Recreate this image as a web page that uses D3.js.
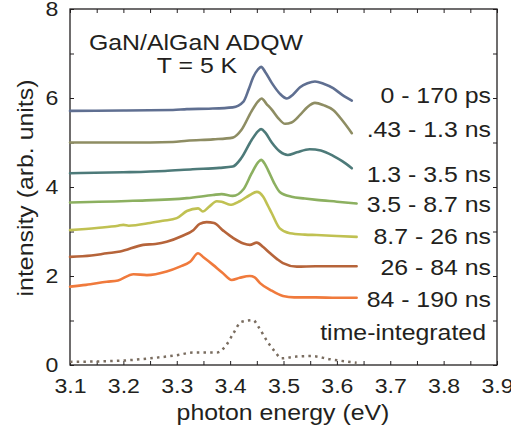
<!DOCTYPE html>
<html>
<head>
<meta charset="utf-8">
<script src="https://cdn.jsdelivr.net/npm/d3@7"></script>
<style>
  html, body { margin: 0; padding: 0; background: #fff; }
  svg { display: block; }
  text { font-family: "Liberation Sans", Arial, Helvetica, sans-serif; fill: #231f20; }
</style>
</head>
<body>
<svg id="chart" width="511" height="433"></svg>
<script>
// ---------------- data ----------------
const seriesLabels = ["0 - 170 ps", ".43 - 1.3 ns", "1.3 - 3.5 ns", "3.5 - 8.7 ns",
                      "8.7 - 26 ns", "26 - 84 ns", "84 - 190 ns", "time-integrated"];

const s0_170ps = [[3.10,5.71],[3.20,5.72],[3.293,5.73],[3.319,5.75],[3.36,5.76],[3.405,5.79],[3.425,5.92],
  [3.435,6.20],[3.443,6.46],[3.452,6.64],[3.458,6.70],[3.466,6.58],[3.478,6.34],[3.493,6.10],[3.506,5.99],
  [3.518,6.08],[3.531,6.24],[3.545,6.33],[3.559,6.37],[3.575,6.32],[3.593,6.22],[3.61,6.07],[3.628,5.94]];

const s043_13ns = [[3.10,5.00],[3.25,5.00],[3.293,5.01],[3.319,5.04],[3.368,5.07],[3.405,5.11],[3.421,5.28],
  [3.44,5.70],[3.452,5.92],[3.459,5.99],[3.468,5.87],[3.478,5.74],[3.49,5.55],[3.503,5.42],[3.515,5.45],
  [3.531,5.62],[3.545,5.80],[3.559,5.89],[3.575,5.84],[3.593,5.73],[3.61,5.50],[3.628,5.21]];

const s13_35ns = [[3.10,4.31],[3.20,4.33],[3.278,4.36],[3.33,4.40],[3.38,4.43],[3.405,4.46],[3.421,4.65],
  [3.44,5.05],[3.452,5.25],[3.458,5.30],[3.466,5.22],[3.478,5.00],[3.493,4.80],[3.508,4.72],[3.525,4.78],
  [3.549,4.85],[3.57,4.82],[3.593,4.70],[3.61,4.58],[3.628,4.42]];

const s35_87ns = [[3.10,3.65],[3.218,3.69],[3.319,3.75],[3.368,3.82],[3.384,3.84],[3.405,3.80],[3.425,3.95],
  [3.44,4.30],[3.452,4.55],[3.458,4.61],[3.465,4.52],[3.471,4.38],[3.482,4.10],[3.493,3.89],[3.515,3.78],
  [3.54,3.74],[3.562,3.71],[3.60,3.67],[3.637,3.63]];

const s87_26ns = [[3.10,3.03],[3.15,3.08],[3.19,3.13],[3.20,3.15],[3.21,3.13],[3.25,3.19],[3.274,3.24],
  [3.30,3.30],[3.319,3.46],[3.34,3.52],[3.349,3.45],[3.36,3.55],[3.375,3.68],[3.384,3.67],[3.40,3.60],
  [3.418,3.68],[3.437,3.82],[3.45,3.89],[3.462,3.78],[3.47,3.60],[3.478,3.41],[3.493,3.07],[3.512,2.96],
  [3.54,2.93],[3.562,2.92],[3.60,2.90],[3.637,2.88]];

const s26_84ns = [[3.10,2.43],[3.14,2.46],[3.169,2.51],[3.194,2.55],[3.237,2.70],[3.26,2.72],[3.281,2.77],
  [3.31,2.90],[3.331,3.03],[3.343,3.17],[3.356,3.21],[3.37,3.19],[3.387,3.02],[3.406,2.85],[3.425,2.73],
  [3.437,2.70],[3.45,2.75],[3.462,2.65],[3.475,2.51],[3.488,2.38],[3.499,2.29],[3.525,2.21],[3.56,2.22],
  [3.60,2.22],[3.637,2.22]];

const s84_190ns = [[3.10,1.76],[3.13,1.80],[3.169,1.87],[3.19,1.90],[3.219,2.04],[3.244,2.02],[3.281,2.10],
  [3.306,2.21],[3.325,2.32],[3.34,2.51],[3.35,2.42],[3.368,2.25],[3.385,2.08],[3.403,1.91],[3.418,1.96],
  [3.437,2.00],[3.446,1.97],[3.456,1.84],[3.475,1.69],[3.499,1.55],[3.52,1.52],[3.56,1.52],[3.60,1.51],
  [3.637,1.51]];

const sIntegrated = [[3.10,0.07],[3.15,0.08],[3.20,0.10],[3.25,0.15],[3.30,0.22],[3.331,0.28],[3.375,0.28],
  [3.393,0.45],[3.406,0.71],[3.421,0.97],[3.443,1.01],[3.453,0.86],[3.468,0.56],[3.484,0.30],[3.496,0.15],
  [3.524,0.19],[3.553,0.20],[3.587,0.13],[3.637,0.05]];

const xTicks = [3.1, 3.2, 3.3, 3.4, 3.5, 3.6, 3.7, 3.8, 3.9];
const yTicks = [0, 2, 4, 6, 8];
const titleLines = ["GaN/AlGaN ADQW", "T = 5 K"];
const xLabel = "photon energy (eV)";
const yLabel = "intensity (arb. units)";

// ---------------- drawing ----------------
const series = [s0_170ps, s043_13ns, s13_35ns, s35_87ns, s87_26ns, s26_84ns, s84_190ns, sIntegrated];
const colors = ["#5f6f91", "#8e8d63", "#4d7a79", "#8cb060", "#c0c152", "#b6643a", "#f07a3c", "#7a6d60"];
const labelYs = [103, 137, 182, 212, 244, 275, 307, 340];
const labelXs = [491, 491, 491, 491, 491, 491, 491, 486];
const stretch = 1.13;
const fs = 22;
const tickFs = 21;

const svg = d3.select("#chart");
const L = 70, R = 497, T = 9, B = 365;
const x = d3.scaleLinear().domain([3.1, 3.9]).range([L, R]);
const y = d3.scaleLinear().domain([0, 8]).range([B, T]);

const minorX = d3.range(0, 17).map(i => 3.1 + i * 0.05);
const minorY = d3.range(0, 9);

function styleAxis(g) {
  g.select(".domain").remove();
  g.selectAll(".tick line").attr("stroke", "#231f20").attr("stroke-width", 1);
}

// minor/major ticks on all four sides (inward)
svg.append("g").attr("transform", `translate(0,${B})`)
  .call(d3.axisBottom(x).tickValues(minorX).tickSize(-4).tickFormat(""))
  .call(styleAxis);
svg.append("g").attr("transform", `translate(0,${T})`)
  .call(d3.axisTop(x).tickValues(minorX).tickSize(-4).tickFormat(""))
  .call(styleAxis);
svg.append("g").attr("transform", `translate(${L},0)`)
  .call(d3.axisLeft(y).tickValues(minorY).tickSize(-4).tickFormat(""))
  .call(styleAxis);
svg.append("g").attr("transform", `translate(${R},0)`)
  .call(d3.axisRight(y).tickValues(minorY).tickSize(-4).tickFormat(""))
  .call(styleAxis);

// labelled axes
const gx = svg.append("g").attr("transform", `translate(0,${B})`)
  .call(d3.axisBottom(x).tickValues(xTicks).tickSize(0).tickPadding(13).tickFormat(d3.format(".1f")));
gx.select(".domain").remove();
gx.selectAll("text").attr("font-size", tickFs).attr("font-family", null)
  .attr("transform", `scale(1.1,1)`);

const gy = svg.append("g").attr("transform", `translate(${L},0)`)
  .call(d3.axisLeft(y).tickValues(yTicks).tickSize(0).tickPadding(10.5).tickFormat(d3.format("d")));
gy.select(".domain").remove();
gy.selectAll("text").attr("font-size", tickFs).attr("font-family", null)
  .attr("transform", `scale(1.1,1)`);

// frame
svg.append("rect").attr("x", L).attr("y", T).attr("width", R - L).attr("height", B - T)
  .attr("fill", "none").attr("stroke", "#231f20").attr("stroke-width", 1.3);

// curves
const line = d3.line().x(d => x(d[0])).y(d => y(d[1])).curve(d3.curveMonotoneX);
series.forEach((s, i) => {
  const p = svg.append("path").datum(s).attr("d", line)
    .attr("fill", "none").attr("stroke", colors[i])
    .attr("stroke-width", i === 7 ? 2.5 : 2.6)
    .attr("stroke-linejoin", "round");
  if (i === 7) p.attr("stroke-dasharray", "2.5,4.2");
  else p.attr("stroke-linecap", "round");
});

// text helper
function addText(str, tx, ty, anchor, rot) {
  svg.append("text")
    .attr("transform", `translate(${tx},${ty})${rot ? ` rotate(${rot})` : ""} scale(${stretch},1)`)
    .attr("text-anchor", anchor).attr("font-size", fs).text(str);
}

seriesLabels.forEach((t, i) => addText(t, labelXs[i], labelYs[i], "end"));
addText(titleLines[0], 196, 50, "middle");
addText(titleLines[1], 197, 73, "middle");
addText(xLabel, 283, 420, "middle");
addText(yLabel, 33, 188, "middle", -90);
</script>
</body>
</html>
